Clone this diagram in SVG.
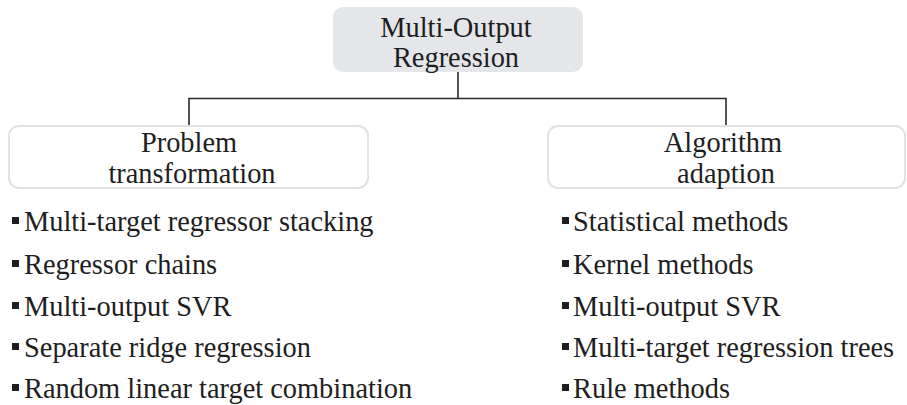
<svg xmlns="http://www.w3.org/2000/svg" width="907" height="405" viewBox="0 0 907 405">
  <style>
    text { font-family: "Liberation Serif", Tinos, "Times New Roman", "Noto Serif", "DejaVu Serif", serif; font-size: 28.4px; fill: #1e1e1e; }
    .mid { text-anchor: middle; }
    .box { fill: #ffffff; stroke: #dfe2e6; stroke-width: 2; }
    .root { fill: #e4e6ea; stroke: none; }
    .wire { fill: none; stroke: #2a2a2a; stroke-width: 1.6; }
    .dot { fill: #1e1e1e; }
  </style>

  <!-- tree connectors -->
  <g id="connectors">
    <path class="wire" d="M458 72 V98.5 M189 125 V98.5 H726 V125"/>
  </g>

  <!-- root node -->
  <g id="root">
    <rect class="root" x="333" y="7" width="250" height="65" rx="10"/>
    <text class="mid" x="456" y="37">Multi-Output</text>
    <text class="mid" x="456" y="67">Regression</text>
  </g>

  <!-- left branch -->
  <g id="problem-transformation">
    <rect class="box" x="9" y="126" width="359" height="62" rx="10"/>
    <text class="mid" x="189" y="152">Problem</text>
    <text class="mid" x="192" y="183">transformation</text>
  </g>

  <!-- right branch -->
  <g id="algorithm-adaption">
    <rect class="box" x="548" y="126" width="357" height="62" rx="10"/>
    <text class="mid" x="723" y="152">Algorithm</text>
    <text class="mid" x="726" y="183">adaption</text>
  </g>

  <!-- left list -->
  <g id="problem-methods">
    <rect class="dot" x="12" y="217" width="7" height="7"/>
    <text x="24" y="231">Multi-target regressor stacking</text>
    <rect class="dot" x="12" y="260" width="7" height="7"/>
    <text x="24" y="274">Regressor chains</text>
    <rect class="dot" x="12" y="302" width="7" height="7"/>
    <text x="24" y="316">Multi-output SVR</text>
    <rect class="dot" x="12" y="343" width="7" height="7"/>
    <text x="24" y="357">Separate ridge regression</text>
    <rect class="dot" x="12" y="384" width="7" height="7"/>
    <text x="24" y="398">Random linear target combination</text>
  </g>

  <!-- right list -->
  <g id="adaption-methods">
    <rect class="dot" x="562" y="217" width="7" height="7"/>
    <text x="573" y="231">Statistical methods</text>
    <rect class="dot" x="562" y="260" width="7" height="7"/>
    <text x="573" y="274">Kernel methods</text>
    <rect class="dot" x="562" y="302" width="7" height="7"/>
    <text x="573" y="316">Multi-output SVR</text>
    <rect class="dot" x="562" y="343" width="7" height="7"/>
    <text x="573" y="357">Multi-target regression trees</text>
    <rect class="dot" x="562" y="384" width="7" height="7"/>
    <text x="573" y="398">Rule methods</text>
  </g>
</svg>
